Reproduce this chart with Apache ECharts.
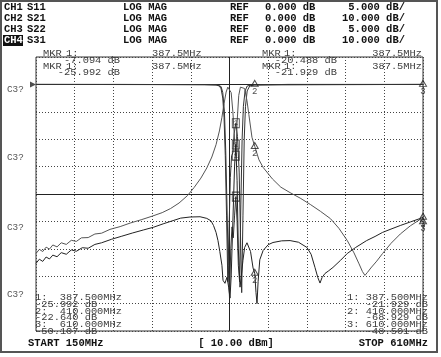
<!DOCTYPE html>
<html><head><meta charset="utf-8">
<script src="https://cdn.jsdelivr.net/npm/echarts@6/dist/echarts.min.js"></script>
<style>html,body{margin:0;padding:0;background:#fff}#c{width:441px;height:357px}</style>
</head><body><div id="c"></div>
<script>
// ---- data ----
const freqStart = 150, freqStop = 610, freqCenter = 380;
const channels = ['CH1', 'CH2', 'CH3', 'CH4'];
const params = ['S11', 'S21', 'S22', 'S31'];
const formats = ['LOG MAG', 'LOG MAG', 'LOG MAG', 'LOG MAG'];
const refs = ['0.000 dB', '0.000 dB', '0.000 dB', '0.000 dB'];
const scales = ['5.000 dB/', '10.000 dB/', '5.000 dB/', '10.000 dB/'];

// S11 (CH1, 5 dB/div), [MHz, dB]
const s11 = [[150,0],[250,0],[350,-0.05],[364,-0.1],[368,-0.3],[370,-0.8],[372,-2.5],[373.5,-6],[375,-13],[376.5,-24],[378,-36],[379.5,-26],[381,-17],[382.5,-13],[384,-12.5],[385.5,-9],[387.5,-7.1],[389.5,-9.5],[391.5,-16],[393,-27],[394.5,-38],[396,-24],[397.5,-10],[399,-4],[401,-1.2],[404,-0.3],[410,-0.1],[450,0],[610,0]];
// S22 (CH3, 5 dB/div)
const s22 = [[150,0],[350,-0.05],[366,-0.1],[370,-0.4],[372,-1.5],[374,-5],[375.5,-12],[377,-22],[378.5,-33],[380,-39],[381.5,-30],[383,-26],[384.5,-28],[386,-24],[387.5,-20.5],[389,-25],[390.5,-33],[392,-36],[393.5,-22],[395,-10],[396.5,-4],[398.5,-1.2],[401,-0.3],[406,-0.1],[610,0]];
// S21 (CH2, 10 dB/div)
const s21 = [[150,-61.7],[154,-60.2],[158,-61.0],[162,-59.4],[166,-60.1],[170,-58.6],[175,-59.3],[180,-57.8],[186,-58.4],[192,-56.9],[198,-57.3],[204,-56.0],[212,-55.9],[220,-54.6],[228,-54.3],[238,-52.9],[250,-51.9],[262,-50.6],[275,-49.4],[288,-48.1],[300,-46.8],[310,-45.3],[320,-43.3],[330,-40.6],[338,-37.6],[346,-34.2],[353,-30.5],[359,-26.5],[364,-22],[368,-17],[371,-12],[373.5,-7],[376,-2.8],[378,-1],[380,-0.8],[382,-3],[384,-10],[386,-20],[387.5,-26],[389,-14],[391,-4],[393,-1],[395,-0.7],[398,-1.5],[400.8,-6],[403,-11],[406.7,-19.3],[410,-22.6],[415,-27.5],[420,-30.3],[431,-34.5],[441,-37.5],[452,-39.5],[464,-41.5],[476,-43.8],[488,-46.3],[500,-49],[510,-52.5],[520,-57],[528,-61.5],[534,-65.5],[538,-68.3],[541,-69.7],[544,-68.6],[548,-67],[555,-64.5],[562,-61.7],[572,-58],[583,-54.6],[595,-51.6],[606,-49.4],[610,-50.1]];
// S31 (CH4, 10 dB/div)
const s31 = [[150,-65.3],[154,-63.8],[158,-64.6],[162,-63.0],[166,-63.7],[170,-62.3],[175,-62.9],[180,-61.4],[186,-62.0],[192,-60.4],[198,-60.9],[205,-59.6],[212,-59.8],[220,-58.4],[228,-57.8],[240,-56.5],[252,-55.4],[265,-54.2],[278,-53.1],[290,-52.1],[302,-50.8],[314,-49.6],[322,-48.8],[333,-48.4],[345,-48.3],[353,-48.9],[358,-49.8],[361,-51.5],[364,-54],[366.3,-57],[368.5,-61],[371,-66],[372.3,-71.5],[374.6,-72.6],[377,-70.4],[379,-74],[380.6,-78],[382,-70],[384,-50],[386,-30],[387.5,-21.9],[389,-35],[390.5,-60],[392.5,-74],[394,-70],[396,-64.2],[398,-59.5],[400.8,-57.8],[403,-58.5],[405,-61],[408,-67],[410,-68.9],[411.5,-76],[412.7,-80],[414,-72],[416,-64],[420,-60.6],[426,-58.5],[431.7,-57.7],[442,-57.1],[452,-57],[462,-57.6],[472,-59.5],[477,-62],[481.6,-66.8],[485,-70.5],[487.6,-72.5],[490,-70.5],[493.5,-69],[498,-68],[503,-66.8],[512,-64.2],[520,-61.7],[530,-59.5],[543,-57],[553,-55.5],[562,-54],[572,-52.8],[583,-51.5],[595,-50.2],[606,-49],[610,-48.5]];

// markers [MHz, dB, label]
const mkrTri5 = [[410,0,'2'],[610,0,'3']];
const mkrTri10 = [[410,-22.640,'2'],[410,-68.929,'2'],[610,-50.107,'3'],[610,-48.501,'3']];
const mkrBox5 = [[387.5,-7.094,'1'],[387.5,-20.488,'1']];
const mkrBox10 = [[387.5,-25.992,'1'],[387.5,-21.929,'1']];
const refPointer = [[150,0]];

const mkrTopLeft = ['-7.094 dB', '-25.992 dB'];
const mkrTopRight = ['-20.488 dB', '-21.929 dB'];
const mkrFreq = '387.5MHz';
const listFreqs = ['387.500MHz', '410.000MHz', '610.000MHz'];
const listLeft = ['-25.992 dB', '-22.640 dB', '-50.107 dB'];
const listRight = ['-21.929 dB', '-68.929 dB', '-48.501 dB'];
const sideLabels = ['C3?', 'C3?', 'C3?', 'C3?'];

// ---- layout / styles ----
const MONO = '"Liberation Mono", "DejaVu Sans Mono", monospace';
const g = [];
function T(text, x, y, o) {
  o = o || {};
  const sx = o.sx || 1;
  g.push({type:'text', z:100, x:x, y:y, scaleX:sx, scaleY:1, style:{text:text, x:0, y:0,
    font:(o.w||'normal') + ' ' + (o.s||10) + 'px ' + MONO,
    fill:o.c||'#3a3a3a', textAlign:o.a||'left', textVerticalAlign:'middle'}});
}
function S(text, x, y, o) { // small, wide readout text
  o = o || {};
  T(text, x, y, {s:8.5, sx:1.22, a:o.a, c:'#3c3c3c'});
}
// frame
g.push({type:'rect', z:0, shape:{x:1, y:1, width:436, height:351}, style:{fill:'none', stroke:'#555', lineWidth:2}});
// header
const rowY = [7.5, 18.5, 29.5, 40.5];
g.push({type:'rect', z:90, shape:{x:3, y:35, width:20, height:11}, style:{fill:'#111'}});
for (let i = 0; i < 4; i++) {
  const hc = i === 3 ? '#fff' : '#111';
  T(channels[i], 4, rowY[i], {w:'bold', s:10.5, c:hc});
  T(params[i], 27, rowY[i], {w:'bold', s:10.5, c:'#111'});
  T(formats[i], 123, rowY[i], {w:'bold', s:10.5, c:'#111'});
  T('REF', 230, rowY[i], {w:'bold', s:10.5, c:'#111'});
  T(refs[i], 265, rowY[i], {w:'bold', s:10.5, c:'#111'});
  T(scales[i], 405, rowY[i], {w:'bold', s:10.5, c:'#111', a:'right'});
}
// marker readouts top
[54, 66.5].forEach(function (y, k) {
  S('MKR', 43, y); S('1:', 66, y); S(mkrFreq, 152, y);
  S('MKR', 262, y); S('1:', 284, y); S(mkrFreq, 422, y, {a:'right'});
  S(mkrTopLeft[k], 120, y + 6.5, {a:'right'});
  S(mkrTopRight[k], 337, y + 6.5, {a:'right'});
});
// marker lists bottom
const listY = [298, 311.5, 325];
for (let i = 0; i < 3; i++) {
  S((i + 1) + ':', 35, listY[i]);
  S(listFreqs[i], 122, listY[i], {a:'right'});
  S(listLeft[i], 35, listY[i] + 6.5);
  S((i + 1) + ':', 347, listY[i]);
  S(listFreqs[i], 428, listY[i], {a:'right'});
  S(listRight[i], 428, listY[i] + 6.5, {a:'right'});
}
// side labels
[90, 158, 228, 295].forEach(function (y, i) { T(sideLabels[i], 7, y, {s:8.5, sx:1.1, c:'#555'}); });
// footer
T('START ' + freqStart + 'MHz', 28, 343, {w:'bold', s:10.5, c:'#111'});
T('[ 10.00 dBm]', 236, 343, {w:'bold', s:10.5, c:'#111', a:'center'});
T('STOP ' + freqStop + 'MHz', 428, 343, {w:'bold', s:10.5, c:'#111', a:'right'});

const dotted = {type:[1, 2], color:'#444', width:1};
function traceSeries(name, data, yi, color) {
  return {name:name, type:'line', data:data, xAxisIndex:0, yAxisIndex:yi, symbol:'none',
    lineStyle:{color:color, width:1}, silent:true, z:5};
}
function markerSeries(data, yi, kind) {
  const tri = kind === 'tri';
  return {type:'scatter', data:data, xAxisIndex:0, yAxisIndex:yi, z:8, silent:true,
    symbol: tri ? 'triangle' : 'rect', symbolSize: tri ? [7, 6] : [7, 9],
    symbolOffset: tri ? [0, -1] : [0, 0],
    itemStyle:{color:'rgba(255,255,255,0)', borderColor:'#222', borderWidth:1},
    label:{show:true, formatter:function (p) { return p.value[2]; }, position: tri ? 'bottom' : 'inside',
      distance:0, fontSize: tri ? 9 : 8, fontFamily:MONO, color:'#222'}};
}

const chart = echarts.init(document.getElementById('c'), null, {renderer:'canvas'});
chart.setOption({
  animation:false,
  backgroundColor:'#fff',
  grid:{left:36, top:57, width:387, height:274, show:true, borderColor:'#333', borderWidth:1, backgroundColor:'transparent', containLabel:false},
  xAxis:[
    {type:'value', min:freqStart, max:freqStop, show:true, axisLine:{show:false}, axisTick:{show:false}, axisLabel:{show:false}, splitLine:{show:false}},
    {type:'value', min:0, max:10, interval:1, show:true, axisLine:{show:false}, axisTick:{show:false}, axisLabel:{show:false}, splitLine:{show:true, lineStyle:dotted}}
  ],
  yAxis:[
    {type:'value', min:-45, max:5, interval:5, axisLine:{show:false}, axisTick:{show:false}, axisLabel:{show:false}, splitLine:{show:true, lineStyle:dotted}},
    {type:'value', min:-90, max:10, interval:10, axisLine:{show:false}, axisTick:{show:false}, axisLabel:{show:false}, splitLine:{show:false}}
  ],
  graphic:g,
  series:[
    Object.assign(traceSeries('S11', s11, 0, '#333'), {
      markLine:{silent:true, symbol:'none', animation:false, label:{show:false},
        lineStyle:{type:'solid', color:'#222', width:1},
        data:[{yAxis:0}, {yAxis:-20}, {xAxis:freqCenter}]}
    }),
    traceSeries('S21', s21, 1, '#555'),
    traceSeries('S22', s22, 0, '#333'),
    traceSeries('S31', s31, 1, '#222'),
    markerSeries(mkrTri5, 0, 'tri'),
    markerSeries(mkrTri10, 1, 'tri'),
    markerSeries(mkrBox5, 0, 'box'),
    markerSeries(mkrBox10, 1, 'box'),
    {type:'scatter', data:refPointer, xAxisIndex:0, yAxisIndex:0, symbol:'triangle', symbolRotate:-90,
      symbolSize:6, symbolOffset:[-3, 0], itemStyle:{color:'#222'}, silent:true, z:9}
  ]
});
</script></body></html>
